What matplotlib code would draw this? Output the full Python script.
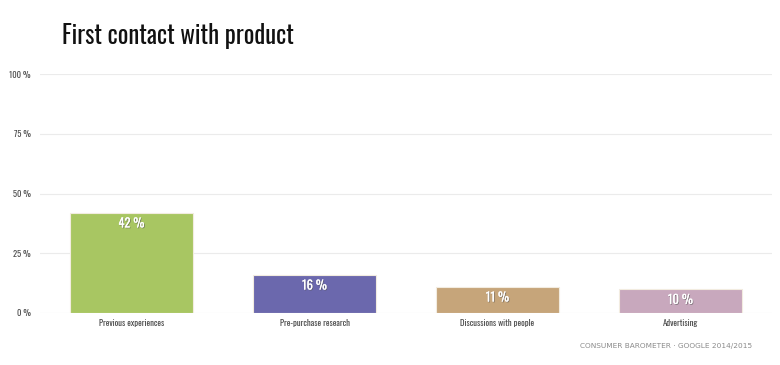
import matplotlib
matplotlib.use("Agg")
import matplotlib.pyplot as plt
import matplotlib.patheffects as pe

categories = ["Previous experiences", "Pre-purchase research", "Discussions with people", "Advertising"]
values = [42, 16, 11, 10]
colors = ["#a8c662", "#6b68ad", "#c6a57a", "#c8a8bd"]
yticks = [0, 25, 50, 75, 100]
ytick_labels = ["0 %", "25 %", "50 %", "75 %", "100 %"]

plt.rcParams['font.family'] = ['Oswald', 'DejaVu Sans']
fig = plt.figure(figsize=(7.8, 3.65), dpi=100)
ax = fig.add_axes([40/780, 1-313/365, 732/780, 239/365])

x = list(range(len(categories)))
ax.bar(x, values, width=0.667, color=colors, edgecolor="#f2ece0", linewidth=0.8, zorder=3)
ax.set_xlim(-0.5, 3.5)
ax.set_ylim(0, 100)
ax.set_yticks(yticks)
ax.set_yticklabels(ytick_labels)
ax.set_xticks(x)
ax.set_xticklabels(categories)
for s in ax.spines.values():
    s.set_visible(False)
ax.grid(axis='y', color='#ebebeb', linewidth=0.8, zorder=0)
ax.tick_params(axis='both', length=0, labelsize=6.2, colors='#4a4a4a')
ax.tick_params(axis='y', pad=6.5)
ax.tick_params(axis='x', pad=4)

for xi, v in zip(x, values):
    ax.annotate(f"{v} %", (xi, v), xytext=(0, -3.5), textcoords='offset points',
                ha='center', va='top', color='white', fontsize=9,
                path_effects=[pe.withSimplePatchShadow(offset=(0.6, -0.6), shadow_rgbFace='#555555', alpha=0.6), pe.Normal()],
                zorder=4)

fig.text(62/780, 1-36/365, "First contact with product", fontsize=17.8,
         color='#111111', va='center', ha='left')
fig.text(752/780, 1-346/365, "Consumer Barometer · Google 2014/2015".upper(), fontsize=5.3,
         color='#8a8a8a', ha='right', va='center', family='DejaVu Sans')

fig.savefig("out.png", dpi=100)
